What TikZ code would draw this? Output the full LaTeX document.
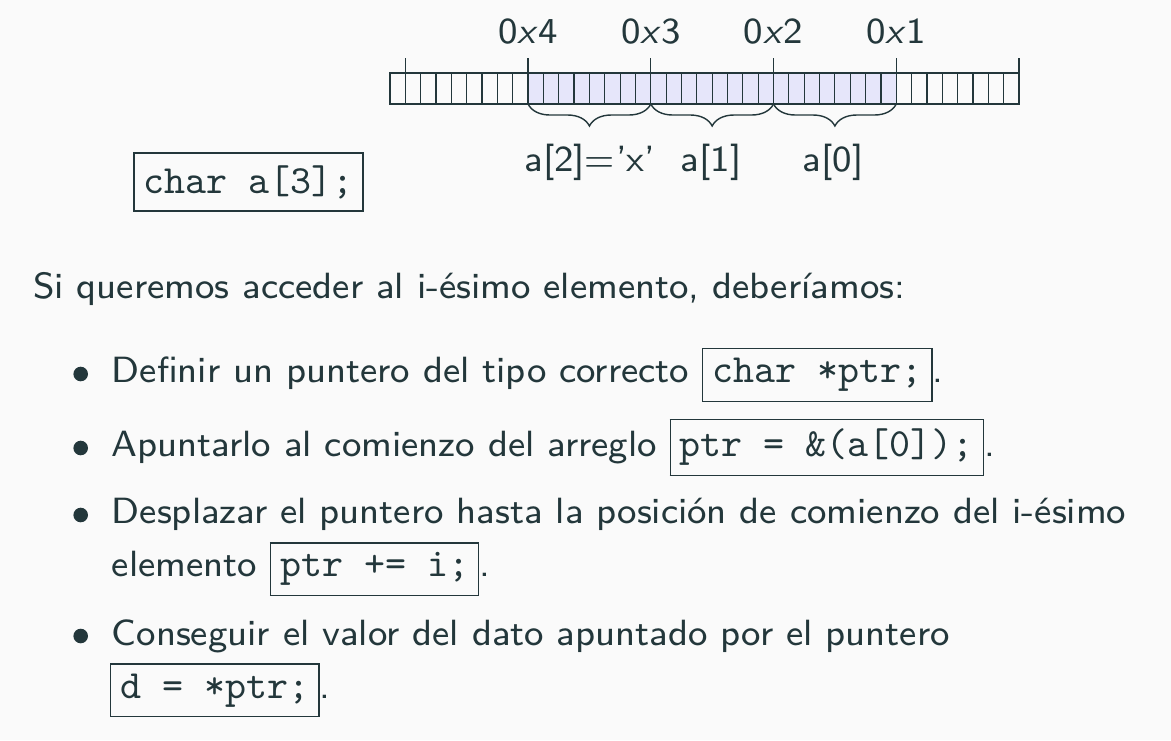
\documentclass[tikz,border=0pt]{standalone}
\usepackage{fontspec}
\setsansfont{lmsans8-regular.otf}[ItalicFont=lmsans8-oblique.otf]
\setmonofont{lmmono10-regular.otf}
\usetikzlibrary{decorations.pathreplacing}
\definecolor{txt}{HTML}{23373B}
\definecolor{bg}{HTML}{FAFAFA}
\definecolor{cellfill}{RGB}{230,230,250}
\newcommand{\bodyfont}{\fontsize{36.5}{44}\selectfont\sffamily}
\newcommand{\codefont}{\fontsize{40}{44}\selectfont\ttfamily}
\newcommand{\codebox}[1]{{\setlength{\fboxsep}{9pt}\setlength{\fboxrule}{1.2pt}\fbox{\codefont #1}}}
\tikzset{
  txtnode/.style={text=txt, inner sep=0pt, font=\bodyfont},
  line/.style={draw=txt, line width=1.2pt},
  bracestyle/.style={draw=txt, line width=1.4pt, decorate, decoration={brace, amplitude=22pt}},
}
\begin{document}
\begin{tikzpicture}[x=1pt,y=-1pt]
\fill[bg] (0,0) rectangle (1171,740);
\useasboundingbox (0,0) rectangle (1171,740);
\def\cw{15.341}
% memory strip
\fill[cellfill] (390+9*\cw,73) rectangle (390+33*\cw,104);
\draw[line] (390,73) rectangle (1019,104);
\foreach \i in {1,...,40} \draw[line] (390+\i*\cw,73) -- (390+\i*\cw,104);
\foreach \i/\n in {1/ta,9/tb,17/tc,25/td,33/te,41/tf} {
  \draw[line] (390+\i*\cw,58) -- (390+\i*\cw,104);
  \coordinate (\n) at (390+\i*\cw,104);
}
% address labels
\foreach \i/\t in {9/4,17/3,25/2,33/1}
  \node[txtnode, anchor=base] (addr\t) at (390+\i*\cw,43) {0\textit{x}\t};
% braces
\draw[bracestyle] (tc) -- (tb);
\draw[bracestyle] (td) -- (tc);
\draw[bracestyle] (te) -- (td);
\node[txtnode, anchor=base] (a2) at (590,171) {a[2]=\kern1pt'x'};
\node[txtnode, anchor=base] (a1) at (711,171) {a[1]};
\node[txtnode, anchor=base] (a0) at (833,171) {a[0]};
% declaration box
\node[draw=txt, line width=1.2pt, text=txt, minimum width=229pt, minimum height=58pt, inner sep=0pt, font=\codefont] (decl) at (248.5,182) {char a[3];};
% text
\node[txtnode, anchor=base west] (intro) at (33,298) {Si queremos acceder al i-ésimo elemento, deberíamos:};
\foreach \y/\n in {374/b1,448/b2,515/b3,636/b4}
  \fill[txt] (80.7,\y) circle (7.3pt);
\node[txtnode, anchor=base west] (l1) at (111.7,382.7) {Definir un puntero del tipo correcto \codebox{char *ptr;}.};
\node[txtnode, anchor=base west] (l2) at (111.7,456.7) {Apuntarlo al comienzo del arreglo \codebox{ptr = \&(a[0]);}.};
\node[txtnode, anchor=base west] (l3) at (111.7,523.3) {Desplazar el puntero hasta la posición de comienzo del i-ésimo};
\node[txtnode, anchor=base west] (l4) at (111.7,576.7) {elemento \codebox{ptr += i;}.};
\node[txtnode, anchor=base west] (l5) at (111.7,645) {Conseguir el valor del dato apuntado por el puntero};
\node[txtnode, anchor=base west] (l6) at (110,698) {\codebox{d = *ptr;}.};
\end{tikzpicture}
\end{document}
